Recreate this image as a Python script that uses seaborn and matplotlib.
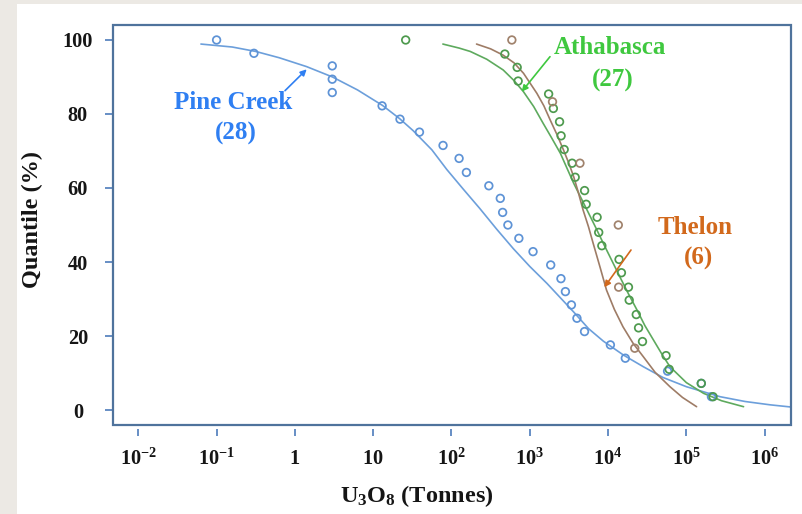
import numpy as np
import pandas as pd
import matplotlib
matplotlib.use("Agg")
import matplotlib.pyplot as plt
from matplotlib.patches import Rectangle
import seaborn as sns

# ---------------- data ----------------
pine_x = [0.1, 0.3, 3.0, 3.0, 3.0, 13, 22, 39, 78, 125, 155, 300, 420, 450, 525,
          725, 1100, 1850, 2500, 2850, 3400, 4000, 5000, 10700, 16600, 57500,
          155000, 209000]
pine_y = [100, 96.4, 93.0, 89.4, 85.8, 82.2, 78.6, 75.1, 71.5, 68.0, 64.2, 60.6,
          57.2, 53.4, 50.0, 46.4, 42.8, 39.2, 35.5, 32.0, 28.4, 24.8, 21.2, 17.6,
          14.0, 10.5, 7.2, 3.6]

atha_x = [26, 480, 690, 710, 1740, 2000, 2400, 2510, 2750, 3470, 3800, 5010, 5250,
          7240, 7590, 8320, 13800, 14800, 18200, 18600, 22900, 24500, 27500, 55000,
          60300, 155000, 219000]
atha_y = [100, 96.2, 92.6, 88.9, 85.4, 81.5, 77.9, 74.1, 70.4, 66.7, 62.9, 59.3,
          55.6, 52.1, 48.0, 44.4, 40.7, 37.1, 33.2, 29.7, 25.8, 22.2, 18.5, 14.7,
          11.0, 7.2, 3.6]

thelon_x = [590, 1950, 4370, 13500, 13650, 21900]
thelon_y = [100, 83.3, 66.7, 50.0, 33.2, 16.7]

# fitted curves (log10 of tonnes, quantile %)
pine_curve_logx = [-1.20, -0.80, -0.50, -0.20, 0.15, 0.48, 0.80, 1.12, 1.34, 1.51,
                   1.75, 1.94, 2.15, 2.36, 2.58, 2.79, 3.00, 3.22, 3.56, 3.75, 3.94,
                   4.20, 4.45, 4.70, 5.00, 5.43, 5.75, 6.07, 6.34]
pine_curve_y = [98.9, 98.1, 96.9, 95.2, 92.8, 90.0, 86.5, 82.3, 78.7, 75.5, 70.3,
                65.0, 59.7, 54.5, 48.8, 43.6, 38.8, 34.2, 26.5, 22.0, 18.6, 14.8,
                11.7, 8.8, 6.3, 3.6, 2.3, 1.4, 0.8]

atha_curve_logx = [1.89, 2.10, 2.24, 2.45, 2.66, 2.80, 2.92, 3.05, 3.17, 3.28, 3.39,
                   3.56, 3.73, 3.84, 3.94, 4.05, 4.15, 4.26, 4.37, 4.47, 4.58, 4.69,
                   4.79, 5.00, 5.22, 5.45, 5.73]
atha_curve_y = [98.9, 97.8, 96.9, 94.8, 91.9, 89.0, 86.0, 82.0, 77.5, 73.5, 69.4,
                61.3, 54.1, 49.4, 45.0, 40.3, 36.0, 31.4, 27.0, 22.8, 18.9, 15.0,
                11.7, 7.4, 4.5, 2.5, 0.9]

thelon_curve_logx = [2.32, 2.50, 2.66, 2.80, 2.92, 3.09, 3.18, 3.26, 3.35, 3.43,
                     3.50, 3.56, 3.62, 3.68, 3.75, 3.81, 3.90, 3.98, 4.08, 4.19,
                     4.32, 4.45, 4.60, 4.79, 4.95, 5.13]
thelon_curve_y = [98.9, 97.6, 95.9, 93.8, 91.0, 85.6, 82.2, 78.4, 74.3, 70.3, 66.6,
                  63.1, 58.8, 54.1, 49.5, 45.0, 38.4, 32.4, 27.2, 22.5, 18.0, 14.4,
                  10.2, 6.3, 3.4, 0.9]

x_tick_exps = [-2, -1, 0, 1, 2, 3, 4, 5, 6]
x_tick_labels = [r"$10^{-2}$", r"$10^{-1}$", r"$1$", r"$10$", r"$10^{2}$",
                 r"$10^{3}$", r"$10^{4}$", r"$10^{5}$", r"$10^{6}$"]
y_ticks = [0, 20, 40, 60, 80, 100]

# ---------------- style ----------------
sns.set_theme(style="white")
plt.rcParams["font.family"] = ["Liberation Serif", "DejaVu Serif"]
plt.rcParams["font.weight"] = "bold"
plt.rcParams["mathtext.fontset"] = "custom"
plt.rcParams["mathtext.rm"] = "Liberation Serif:bold"
plt.rcParams["mathtext.bf"] = "Liberation Serif:bold"
plt.rcParams["mathtext.it"] = "Liberation Serif:bold:italic"
plt.rcParams["mathtext.default"] = "rm"

frame_col = "#4f739c"
tick_col = "#5a86c0"
blue_pt, blue_ln, blue_tx = "#5e93d6", "#6c9fdb", "#2f7ff2"
green_pt, green_ln, green_tx = "#4e9a4e", "#5eaa5e", "#3fc83f"
brown_pt, brown_ln = "#a0826c", "#9e7c66"
thelon_tx = "#d2691c"

W, H = 803, 514
fig = plt.figure(figsize=(W / 100, H / 100), dpi=100)
fig.patch.set_facecolor("white")
# light grey slide border on the left and top
fig.patches.append(Rectangle((0, 0), 17 / W, 1, transform=fig.transFigure,
                             facecolor="#ece9e4", edgecolor="none", zorder=0))
fig.patches.append(Rectangle((0, 1 - 4 / H), 1, 4 / H, transform=fig.transFigure,
                             facecolor="#ece9e4", edgecolor="none", zorder=0))

L, R, T, B = 113, 791, 25, 425
ax = fig.add_axes([L / W, 1 - B / H, (R - L) / W, (B - T) / H])
ax.set_facecolor("white")

# ---------------- curves ----------------
curves = [(pine_curve_logx, pine_curve_y, blue_ln),
          (atha_curve_logx, atha_curve_y, green_ln),
          (thelon_curve_logx, thelon_curve_y, brown_ln)]
for lx, cy, col in curves:
    d = pd.DataFrame({"x": np.power(10.0, lx), "y": cy})
    sns.lineplot(data=d, x="x", y="y", ax=ax, sort=False, estimator=None,
                 color=col, lw=1.2, zorder=2)

# ---------------- points ----------------
pts = [(pine_x, pine_y, blue_pt), (atha_x, atha_y, green_pt),
       (thelon_x, thelon_y, brown_pt)]
for px, py, col in pts:
    d = pd.DataFrame({"x": px, "y": py})
    sns.scatterplot(data=d, x="x", y="y", ax=ax, s=30, marker="o",
                    facecolor="none", edgecolor=col, linewidth=1.25, zorder=3)

ax.set_xscale("log")
ax.set_xlim(10 ** -2.323, 10 ** 6.336)
ax.set_ylim(-4.05, 104.05)

ax.set_xticks([10.0 ** e for e in x_tick_exps])
ax.set_xticklabels(x_tick_labels)
ax.xaxis.set_minor_locator(matplotlib.ticker.NullLocator())
ax.set_yticks(y_ticks)
ax.set_yticklabels([str(v) for v in y_ticks])

for s in ax.spines.values():
    s.set_visible(False)
ax.spines["bottom"].set_position(("outward", 3))
ax.add_patch(Rectangle((0, 0), 1, 1, transform=ax.transAxes, fill=False,
                       edgecolor=frame_col, lw=1.6, clip_on=False, zorder=5))

ax.tick_params(axis="x", which="major", bottom=True, direction="out", length=5.2,
               width=1.3, color=tick_col, pad=9, labelsize=14.6, labelcolor="#151515")
ax.tick_params(axis="y", which="major", left=True, direction="out", length=5.8,
               width=1.3, color=tick_col, pad=19.5, labelsize=14.6, labelcolor="#151515")
for lab in ax.get_yticklabels():
    lab.set_horizontalalignment("center")
    lab.set_fontweight("bold")
for lab in ax.get_xticklabels():
    lab.set_fontweight("bold")

ax.set_xlabel(r"U$_{3}$O$_{8}$ (Tonnes)", fontsize=17.5, fontweight="bold",
              color="#151515")
ax.xaxis.label.set_va("center")
ax.xaxis.set_label_coords((417 - L) / (R - L), (B - 496) / (B - T))
ax.set_ylabel("Quantile (%)", fontsize=17.5, fontweight="bold", color="#151515")
ax.yaxis.label.set_va("center")
ax.yaxis.set_label_coords((32 - L) / (R - L), (B - 219) / (B - T))

# ---------------- annotations ----------------
def px2data(x, y):
    return 10 ** ((x - 138.3) / 78.3 - 2), (410 - y) / 3.7

def label(txt, xy, col):
    x, y = px2data(*xy)
    ax.text(x, y, txt, color=col, fontsize=18, fontweight="bold",
            ha="center", va="center", zorder=6)

def arrow(p0, p1, col):
    ax.annotate("", xy=px2data(*p1), xytext=px2data(*p0),
                arrowprops=dict(arrowstyle="-|>", color=col, lw=1.2,
                                mutation_scale=9, shrinkA=0, shrinkB=0), zorder=6)

label("Pine Creek", (233.5, 103), blue_tx)
label("(28)", (236.3, 133.5), blue_tx)
arrow((285, 90.7), (306.7, 69.3), blue_tx)

label("Athabasca", (610, 47.5), green_tx)
label("(27)", (613, 80), green_tx)
arrow((550, 56.7), (521.7, 91.7), green_tx)

label("Thelon", (695, 227.5), thelon_tx)
label("(6)", (698.5, 258.5), thelon_tx)
arrow((631, 250), (604.3, 287.3), thelon_tx)

fig.savefig("out.png", dpi=100, facecolor=fig.get_facecolor())
